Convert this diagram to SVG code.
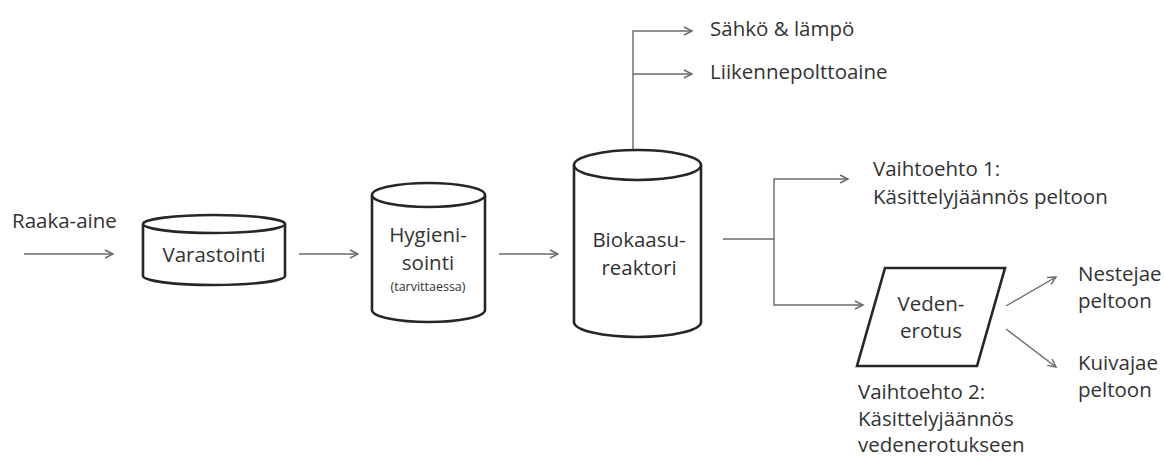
<svg xmlns="http://www.w3.org/2000/svg" width="1164" height="458" viewBox="0 0 1164 458">
  <style>
    .shape { fill: #ffffff; stroke: #262626; stroke-width: 2.6; }
    .conn { fill: none; stroke: #6a6a6a; stroke-width: 1.4; }
    text { font-family: "Open Sans", "Liberation Sans", sans-serif; font-size: 20.5px; fill: #333333; }
    .c { text-anchor: middle; }
    .small { font-size: 12.5px; }
  </style>
  <defs>
    <marker id="arrow" markerUnits="userSpaceOnUse" markerWidth="12" markerHeight="12" refX="9" refY="5" orient="auto">
      <path d="M1,1 L9,5 L1,9" fill="none" stroke="#6a6a6a" stroke-width="1.4"/>
    </marker>
  </defs>
  <rect width="1164" height="458" fill="#ffffff"/>

  <g id="connectors">
    <path class="conn" d="M24,254 H113" marker-end="url(#arrow)"/>
    <path class="conn" d="M299,254 H358" marker-end="url(#arrow)"/>
    <path class="conn" d="M499,254 H558" marker-end="url(#arrow)"/>
    <path class="conn" d="M633,150 V31 H692" marker-end="url(#arrow)"/>
    <path class="conn" d="M633,74 H692" marker-end="url(#arrow)"/>
    <path class="conn" d="M723,239 H774"/>
    <path class="conn" d="M774,239 V179 H848" marker-end="url(#arrow)"/>
    <path class="conn" d="M774,239 V305 H863" marker-end="url(#arrow)"/>
    <path class="conn" d="M1006,306 L1056,277" marker-end="url(#arrow)"/>
    <path class="conn" d="M1006,329 L1056,367" marker-end="url(#arrow)"/>
  </g>

  <g id="raaka-aine">
    <text x="12" y="228">Raaka-aine</text>
  </g>

  <g id="varastointi">
    <path class="shape" d="M143,224 V276 A71,9 0 0 0 285,276 V224"/>
    <ellipse class="shape" cx="214" cy="224" rx="71" ry="9"/>
    <text class="c" x="214" y="262">Varastointi</text>
  </g>

  <g id="hygienisointi">
    <path class="shape" d="M372,195 V310 A56.5,12 0 0 0 485,310 V195"/>
    <ellipse class="shape" cx="428.5" cy="195" rx="56.5" ry="12"/>
    <text class="c" x="428" y="242">Hygieni-</text>
    <text class="c" x="428" y="270">sointi</text>
    <text class="c small" x="428" y="291">(tarvittaessa)</text>
  </g>

  <g id="biokaasureaktori">
    <path class="shape" d="M574,165 V322 A63.5,15 0 0 0 701,322 V165"/>
    <ellipse class="shape" cx="637.5" cy="165" rx="63.5" ry="15"/>
    <text class="c" x="639" y="247">Biokaasu-</text>
    <text class="c" x="639" y="275">reaktori</text>
  </g>

  <g id="sahko-lampo">
    <text x="710" y="36">Sähkö &amp; lämpö</text>
  </g>

  <g id="liikennepolttoaine">
    <text x="710" y="79">Liikennepolttoaine</text>
  </g>

  <g id="vaihtoehto-1">
    <text x="873" y="176">Vaihtoehto 1:</text>
    <text x="873" y="204">Käsittelyjäännös peltoon</text>
  </g>

  <g id="vedenerotus">
    <polygon class="shape" points="885,268 1005,268 977,366 857,366"/>
    <text class="c" x="931" y="311">Veden-</text>
    <text class="c" x="931" y="338">erotus</text>
  </g>

  <g id="vaihtoehto-2">
    <text x="858" y="399">Vaihtoehto 2:</text>
    <text x="858" y="426">Käsittelyjäännös</text>
    <text x="858" y="452">vedenerotukseen</text>
  </g>

  <g id="nestejae">
    <text x="1078" y="281">Nestejae</text>
    <text x="1078" y="308">peltoon</text>
  </g>

  <g id="kuivajae">
    <text x="1078" y="370">Kuivajae</text>
    <text x="1078" y="397">peltoon</text>
  </g>
</svg>
